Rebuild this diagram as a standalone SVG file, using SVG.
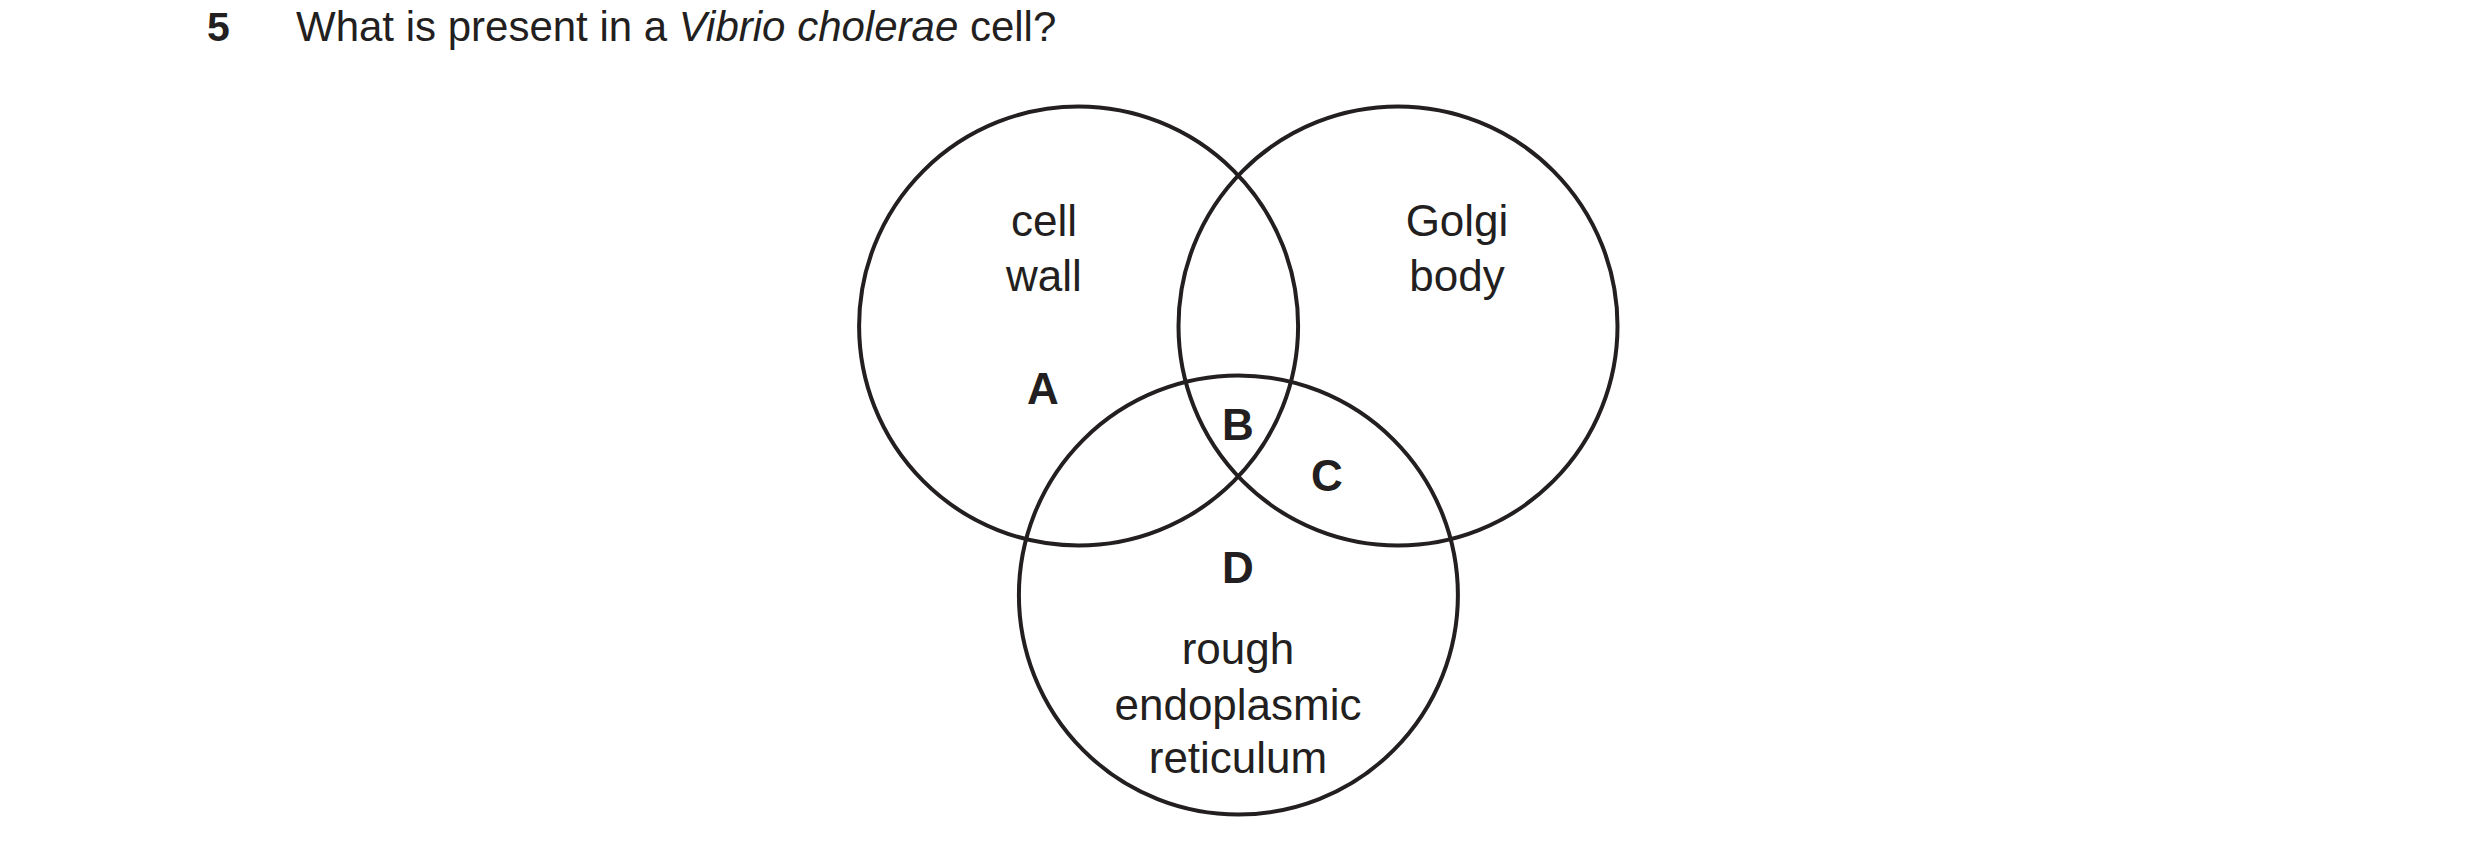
<svg xmlns="http://www.w3.org/2000/svg" width="2480" height="855" viewBox="0 0 2480 855">
<style>
text{font-family:"Liberation Sans",Arial,sans-serif;fill:#231f20;font-size:44px}
.c{fill:none;stroke:#231f20;stroke-width:4}
.m{text-anchor:middle}
.b{font-weight:bold}
</style>
<rect width="2480" height="855" fill="#fff"/>
<text x="207" y="41" class="b" style="font-size:41px">5</text>
<text x="296" y="41" style="font-size:42px">What is present in a <tspan font-style="italic">Vibrio cholerae</tspan> cell?</text>
<g id="cellwall"><circle class="c" cx="1078.6" cy="326" r="219.5"/><text class="m" x="1044" y="236">cell</text><text class="m" x="1044" y="291">wall</text></g>
<g id="golgi"><circle class="c" cx="1398" cy="326" r="219.5"/><text class="m" x="1457" y="236">Golgi</text><text class="m" x="1457" y="291">body</text></g>
<g id="rer"><circle class="c" cx="1238.4" cy="595" r="219.5"/><text class="m" x="1238" y="664">rough</text><text class="m" x="1238" y="720">endoplasmic</text><text class="m" x="1238" y="773">reticulum</text></g>
<g id="labels" class="b">
<text class="m b" x="1043" y="404">A</text>
<text class="m b" x="1238" y="440">B</text>
<text class="m b" x="1327" y="491">C</text>
<text class="m b" x="1238" y="583">D</text>
</g>
</svg>
